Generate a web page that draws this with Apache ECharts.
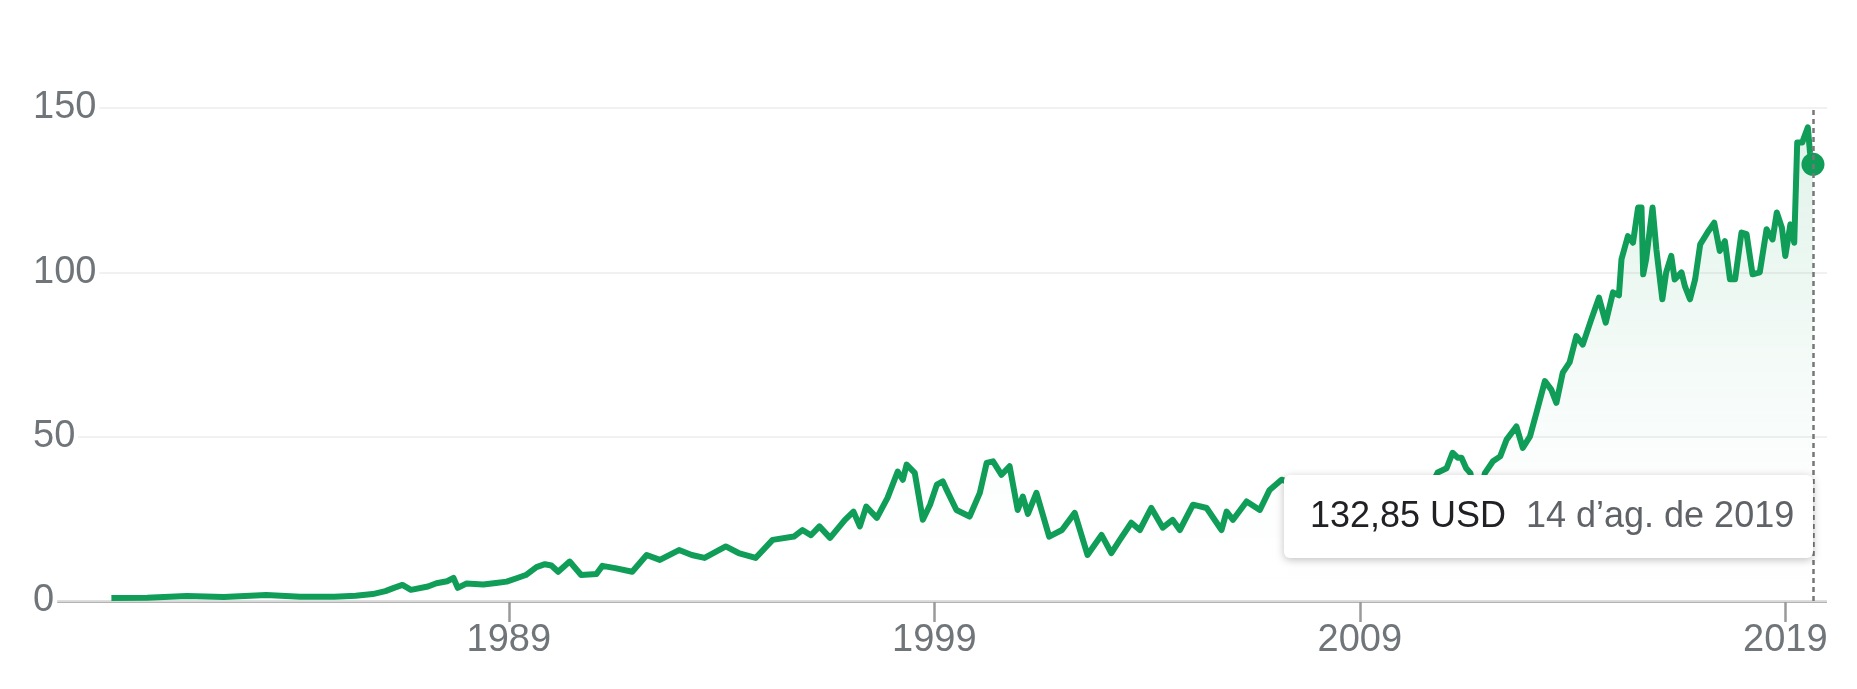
<!DOCTYPE html>
<html lang="ca">
<head>
    <meta charset="UTF-8">
    <title>Cotització</title>
    <script src="https://cdn.jsdelivr.net/npm/echarts@6/dist/echarts.min.js"></script>
    <style>html, body { margin: 0; padding: 0; background: #fff; }</style>
</head>
<body>

<div id="main" style="width: 1857px;height:689px;"></div>
<script>
    // decimal years and closing prices
    var years = [
        1979.66, 1980.5, 1981.43, 1982.3, 1983.3, 1984.1, 1984.9, 1985.4, 1985.8, 1986.1,
        1986.3, 1986.5, 1986.7, 1987.1, 1987.3, 1987.55, 1987.7, 1987.8, 1988.0, 1988.4,
        1988.7, 1988.95, 1989.2, 1989.4, 1989.65, 1989.85, 1990.0, 1990.16, 1990.43, 1990.7,
        1991.06, 1991.2, 1991.5, 1991.9, 1992.24, 1992.55, 1993.0, 1993.3, 1993.6, 1994.1,
        1994.4, 1994.8, 1995.2, 1995.7, 1995.9, 1996.1, 1996.3, 1996.55, 1996.9, 1997.1,
        1997.25, 1997.4, 1997.65, 1997.9, 1998.14, 1998.26, 1998.35, 1998.54, 1998.73, 1998.9,
        1999.06, 1999.2, 1999.29, 1999.52, 1999.83, 2000.07, 2000.23, 2000.38, 2000.58, 2000.77,
        2000.96, 2001.08, 2001.2, 2001.4, 2001.7, 2002.0, 2002.3, 2002.6, 2002.93, 2003.16,
        2003.36, 2003.63, 2003.83, 2004.1, 2004.37, 2004.6, 2004.77, 2005.08, 2005.4, 2005.75,
        2005.87, 2006.02, 2006.34, 2006.65, 2006.88, 2007.16, 2007.5, 2007.8, 2008.2, 2008.6,
        2008.85, 2009.2, 2009.5, 2009.9, 2010.3, 2010.6, 2010.83, 2011.04, 2011.18, 2011.3,
        2011.39, 2011.5, 2011.6, 2011.7, 2011.85, 2011.94, 2012.13, 2012.3, 2012.45, 2012.68,
        2012.83, 2013.0, 2013.15, 2013.35, 2013.5, 2013.62, 2013.77, 2013.93, 2014.09, 2014.24,
        2014.44, 2014.62, 2014.78, 2014.95, 2015.09, 2015.15, 2015.3, 2015.42, 2015.54, 2015.62,
        2015.66, 2015.73, 2015.88, 2015.97, 2016.11, 2016.2, 2016.32, 2016.4, 2016.56, 2016.64,
        2016.76, 2016.88, 2017.0, 2017.17, 2017.33, 2017.46, 2017.58, 2017.7, 2017.82, 2017.97,
        2018.09, 2018.23, 2018.4, 2018.56, 2018.7, 2018.8, 2018.92, 2019.0, 2019.12, 2019.21,
        2019.28, 2019.4, 2019.44, 2019.53, 2019.58, 2019.65
    ];
    var prices = [
        0.9, 1.0, 1.5, 1.2, 1.8, 1.3, 1.3, 1.6, 2.1, 3.0,
        4.0, 4.9, 3.4, 4.4, 5.4, 6.0, 7.0, 4.0, 5.3, 5.0,
        5.5, 5.9, 7.0, 7.9, 10.3, 11.2, 10.8, 8.9, 12.0, 7.9,
        8.2, 10.7, 10.0, 8.9, 14.0, 12.5, 15.5, 14.0, 13.1, 16.6,
        14.6, 13.1, 18.6, 19.6, 21.6, 20.0, 22.7, 19.2, 24.7, 27.2,
        22.7, 28.7, 25.3, 31.4, 39.4, 36.9, 41.5, 39.0, 24.7, 29.3,
        35.4, 36.4, 33.8, 27.7, 25.7, 32.9, 42.0, 42.5, 38.4, 41.0,
        27.7, 31.8, 26.5, 32.9, 19.6, 21.6, 26.8, 14.0, 20.1, 14.6,
        18.6, 23.8, 21.6, 28.3, 22.3, 24.7, 21.6, 29.3, 28.3, 21.6,
        27.2, 24.7, 30.3, 27.7, 33.8, 36.9, 35.5, 33.0, 30.0, 32.0,
        22.0, 16.0, 24.0, 31.0, 35.0, 33.0, 39.1, 40.4, 45.1, 43.6,
        43.6, 40.4, 38.9, 30.0, 34.0, 38.9, 42.5, 44.0, 49.1, 53.1,
        46.6, 50.1, 57.2, 66.9, 64.3, 60.3, 69.5, 72.6, 80.6, 78.0,
        85.7, 92.3, 84.7, 93.9, 93.0, 104.0, 111.0, 109.0, 119.7, 119.7,
        99.4, 104.0, 119.7, 107.0, 91.8, 100.0, 105.0, 97.8, 100.0, 95.8,
        91.8, 97.8, 108.5, 112.1, 115.1, 106.5, 109.5, 97.9, 97.9, 112.1,
        111.6, 99.4, 100.0, 113.1, 110.0, 118.2, 113.6, 105.0, 114.6, 109.0,
        139.5, 139.5, 141.0, 144.1, 136.5, 132.85
    ];
    var xTicks = [1989, 1999, 2009, 2019];
    var lastPrice = '132,85 USD';
    var lastDate = '14 d’ag. de 2019';

    var green = '#0f9d58';
    var font = '"Liberation Sans", Arial, sans-serif';

    var lineData = years.map(function (y, i) {
        return [y, prices[i]];
    });
    var last = lineData[lineData.length - 1];

    var myChart = echarts.init(document.getElementById('main'));

    myChart.setOption({
        animation: false,
        grid: {left: 28, right: 30, top: 108, bottom: 88},
        xAxis: {
            type: 'value',
            min: 1977.70,
            max: 2019.98,
            z: -1,
            splitLine: {show: false},
            axisLine: {lineStyle: {color: '#9a9a9a', width: 2.5, cap: 'butt'}},
            axisTick: {
                customValues: xTicks,
                length: 21,
                lineStyle: {color: '#9a9a9a', width: 2.5}
            },
            axisLabel: {
                customValues: xTicks,
                formatter: function (v) {
                    return String(v);
                },
                margin: 21,
                fontSize: 38,
                color: '#70757a',
                fontFamily: font
            }
        },
        yAxis: {
            type: 'value',
            min: 0,
            max: 150,
            interval: 50,
            axisLine: {show: false},
            axisTick: {show: false},
            splitLine: {lineStyle: {color: '#ececec', width: 1.5}},
            axisLabel: {
                inside: true,
                margin: 0,
                fontSize: 38,
                color: '#70757a',
                fontFamily: font,
                backgroundColor: '#fff',
                padding: [0, 3, 0, 5]
            }
        },
        series: [
            {
                type: 'line',
                data: lineData,
                showSymbol: false,
                symbol: 'none',
                lineStyle: {color: green, width: 6, join: 'round'},
                itemStyle: {color: green},
                areaStyle: {
                    color: new echarts.graphic.LinearGradient(0, 0, 0, 1, [
                        {offset: 0, color: 'rgba(15,157,88,0.18)'},
                        {offset: 0.45, color: 'rgba(15,157,88,0.08)'},
                        {offset: 0.75, color: 'rgba(15,157,88,0.015)'},
                        {offset: 1, color: 'rgba(15,157,88,0)'}
                    ])
                },
                markLine: {
                    silent: true,
                    symbol: 'none',
                    label: {show: false},
                    lineStyle: {color: '#777777', type: [5, 4], width: 2.5, opacity: 1},
                    data: [{xAxis: last[0]}]
                }
            },
            {
                type: 'scatter',
                data: [last],
                symbolSize: 23,
                itemStyle: {color: green, opacity: 1},
                z: 4
            }
        ]
    });

    // hover card anchored to the last point
    var px = myChart.convertToPixel({gridIndex: 0}, [last[0], 0]);
    var right = px[0], base = px[1];
    myChart.setOption({
        graphic: [
            {
                type: 'rect',
                z: 20,
                shape: {x: right - 529, y: base - 126, width: 529, height: 83, r: 6},
                style: {
                    fill: '#fff',
                    shadowBlur: 8,
                    shadowOffsetY: 2,
                    shadowColor: 'rgba(0,0,0,0.25)'
                }
            },
            {
                type: 'text',
                z: 21,
                x: right - 503,
                y: base - 84,
                style: {
                    text: lastPrice,
                    fontSize: 36,
                    fontFamily: font,
                    fill: '#202124',
                    verticalAlign: 'middle'
                }
            },
            {
                type: 'text',
                z: 21,
                x: right - 287,
                y: base - 84,
                style: {
                    text: lastDate,
                    fontSize: 36,
                    fontFamily: font,
                    fill: '#5f6368',
                    verticalAlign: 'middle'
                }
            }
        ]
    });
</script>
</body>
</html>
